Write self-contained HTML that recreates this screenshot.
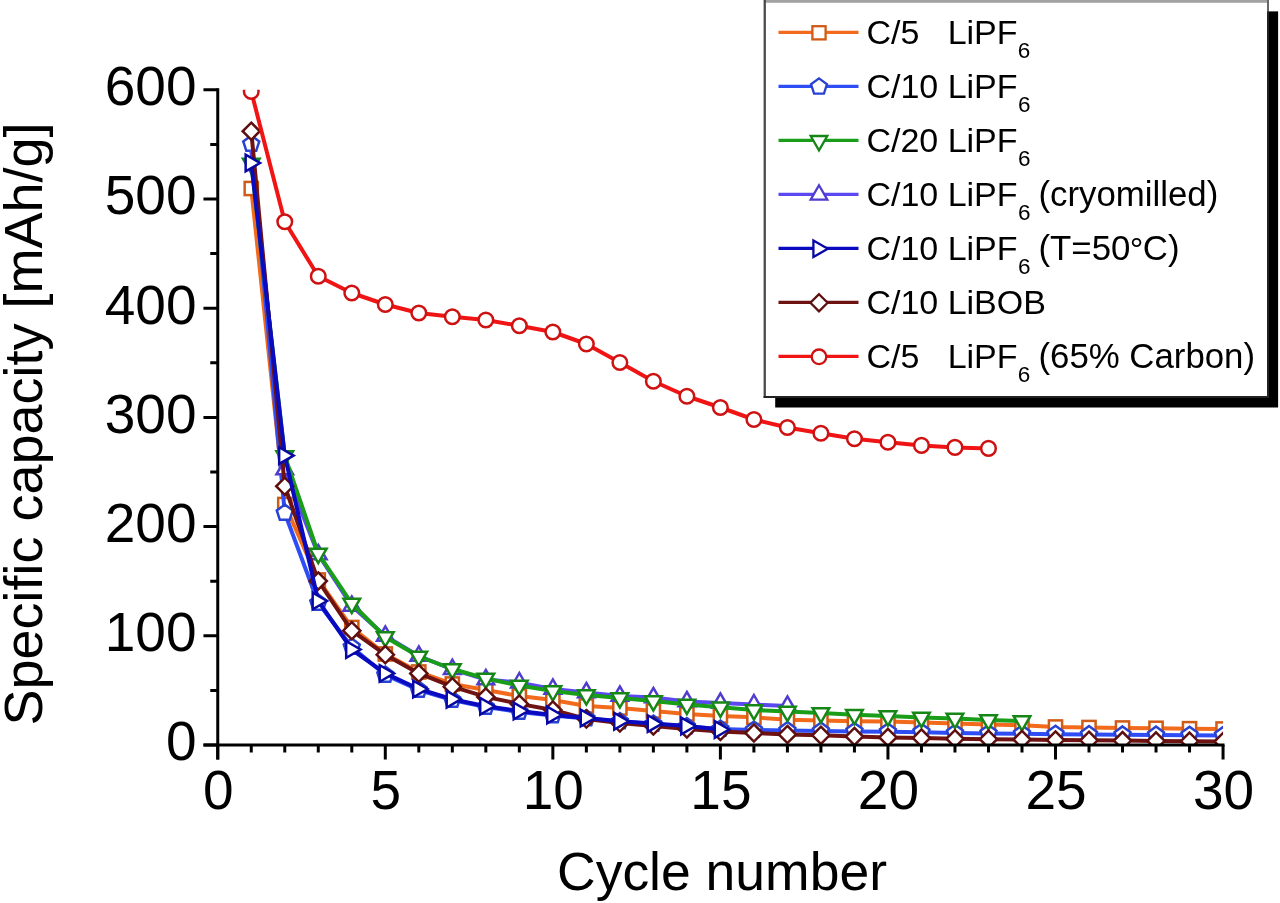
<!DOCTYPE html><html><head><meta charset="utf-8"><title>chart</title><style>
html,body{margin:0;padding:0;background:#fff}
body{width:1280px;height:903px;position:relative;overflow:hidden;font-family:"Liberation Sans",sans-serif;color:#000}
</style></head><body>
<svg width="1280" height="903" viewBox="0 0 1280 903" style="position:absolute;left:0;top:0;filter:blur(0.75px)">
<defs><clipPath id="pc"><rect x="217.75" y="89.8" width="1005.3" height="656.2"/></clipPath></defs>
<rect width="1280" height="903" fill="#fff"/>
<g clip-path="url(#pc)">
<polyline points="251.26,188.5 284.77,504.5 318.28,580 351.79,627.5 385.3,654 418.81,672 452.32,684 485.83,690 519.34,696 552.85,700 586.36,706 619.87,708 653.38,711 686.89,714 720.4,716 753.91,717.3 787.42,719.7 820.93,720.5 854.44,721.25 887.95,721.5 921.46,722.5 954.97,723.6 988.48,724.4 1021.99,725.2 1055.5,727 1089.01,727.5 1122.52,728 1156.03,728.3 1189.54,728.7 1223.05,729" fill="none" stroke="#f26a1b" stroke-width="4" stroke-linejoin="round"/>
<rect x="244.66" y="181.9" width="13.2" height="13.2" fill="#fff" stroke="#d05b17" stroke-width="2.5" stroke-linejoin="miter"/>
<rect x="278.17" y="497.9" width="13.2" height="13.2" fill="#fff" stroke="#d05b17" stroke-width="2.5" stroke-linejoin="miter"/>
<rect x="311.68" y="573.4" width="13.2" height="13.2" fill="#fff" stroke="#d05b17" stroke-width="2.5" stroke-linejoin="miter"/>
<rect x="345.19" y="620.9" width="13.2" height="13.2" fill="#fff" stroke="#d05b17" stroke-width="2.5" stroke-linejoin="miter"/>
<rect x="378.7" y="647.4" width="13.2" height="13.2" fill="#fff" stroke="#d05b17" stroke-width="2.5" stroke-linejoin="miter"/>
<rect x="412.21" y="665.4" width="13.2" height="13.2" fill="#fff" stroke="#d05b17" stroke-width="2.5" stroke-linejoin="miter"/>
<rect x="445.72" y="677.4" width="13.2" height="13.2" fill="#fff" stroke="#d05b17" stroke-width="2.5" stroke-linejoin="miter"/>
<rect x="479.23" y="683.4" width="13.2" height="13.2" fill="#fff" stroke="#d05b17" stroke-width="2.5" stroke-linejoin="miter"/>
<rect x="512.74" y="689.4" width="13.2" height="13.2" fill="#fff" stroke="#d05b17" stroke-width="2.5" stroke-linejoin="miter"/>
<rect x="546.25" y="693.4" width="13.2" height="13.2" fill="#fff" stroke="#d05b17" stroke-width="2.5" stroke-linejoin="miter"/>
<rect x="579.76" y="699.4" width="13.2" height="13.2" fill="#fff" stroke="#d05b17" stroke-width="2.5" stroke-linejoin="miter"/>
<rect x="613.27" y="701.4" width="13.2" height="13.2" fill="#fff" stroke="#d05b17" stroke-width="2.5" stroke-linejoin="miter"/>
<rect x="646.78" y="704.4" width="13.2" height="13.2" fill="#fff" stroke="#d05b17" stroke-width="2.5" stroke-linejoin="miter"/>
<rect x="680.29" y="707.4" width="13.2" height="13.2" fill="#fff" stroke="#d05b17" stroke-width="2.5" stroke-linejoin="miter"/>
<rect x="713.8" y="709.4" width="13.2" height="13.2" fill="#fff" stroke="#d05b17" stroke-width="2.5" stroke-linejoin="miter"/>
<rect x="747.31" y="710.7" width="13.2" height="13.2" fill="#fff" stroke="#d05b17" stroke-width="2.5" stroke-linejoin="miter"/>
<rect x="780.82" y="713.1" width="13.2" height="13.2" fill="#fff" stroke="#d05b17" stroke-width="2.5" stroke-linejoin="miter"/>
<rect x="814.33" y="713.9" width="13.2" height="13.2" fill="#fff" stroke="#d05b17" stroke-width="2.5" stroke-linejoin="miter"/>
<rect x="847.84" y="714.65" width="13.2" height="13.2" fill="#fff" stroke="#d05b17" stroke-width="2.5" stroke-linejoin="miter"/>
<rect x="881.35" y="714.9" width="13.2" height="13.2" fill="#fff" stroke="#d05b17" stroke-width="2.5" stroke-linejoin="miter"/>
<rect x="914.86" y="715.9" width="13.2" height="13.2" fill="#fff" stroke="#d05b17" stroke-width="2.5" stroke-linejoin="miter"/>
<rect x="948.37" y="717" width="13.2" height="13.2" fill="#fff" stroke="#d05b17" stroke-width="2.5" stroke-linejoin="miter"/>
<rect x="981.88" y="717.8" width="13.2" height="13.2" fill="#fff" stroke="#d05b17" stroke-width="2.5" stroke-linejoin="miter"/>
<rect x="1015.39" y="718.6" width="13.2" height="13.2" fill="#fff" stroke="#d05b17" stroke-width="2.5" stroke-linejoin="miter"/>
<rect x="1048.9" y="720.4" width="13.2" height="13.2" fill="#fff" stroke="#d05b17" stroke-width="2.5" stroke-linejoin="miter"/>
<rect x="1082.41" y="720.9" width="13.2" height="13.2" fill="#fff" stroke="#d05b17" stroke-width="2.5" stroke-linejoin="miter"/>
<rect x="1115.92" y="721.4" width="13.2" height="13.2" fill="#fff" stroke="#d05b17" stroke-width="2.5" stroke-linejoin="miter"/>
<rect x="1149.43" y="721.7" width="13.2" height="13.2" fill="#fff" stroke="#d05b17" stroke-width="2.5" stroke-linejoin="miter"/>
<rect x="1182.94" y="722.1" width="13.2" height="13.2" fill="#fff" stroke="#d05b17" stroke-width="2.5" stroke-linejoin="miter"/>
<rect x="1216.45" y="722.4" width="13.2" height="13.2" fill="#fff" stroke="#d05b17" stroke-width="2.5" stroke-linejoin="miter"/>
<polyline points="251.26,144 284.77,513 318.28,603 351.79,647 385.3,675 418.81,690 452.32,700 485.83,707 519.34,712 552.85,715.5 586.36,718.5 619.87,721.5 653.38,724 686.89,726.5 720.4,729 753.91,730 787.42,730.5 820.93,731 854.44,731.4 887.95,731.8 921.46,732.2 954.97,733 988.48,733.4 1021.99,733.75 1055.5,734.2 1089.01,734.5 1122.52,734.8 1156.03,735 1189.54,735.2 1223.05,735.4" fill="none" stroke="#2f4df5" stroke-width="4" stroke-linejoin="round"/>
<polygon points="251.26,135.6 259.25,141.4 256.2,150.8 246.32,150.8 243.27,141.4" fill="#fff" stroke="#2842d2" stroke-width="2.5" stroke-linejoin="miter"/>
<polygon points="284.77,504.6 292.76,510.4 289.71,519.8 279.83,519.8 276.78,510.4" fill="#fff" stroke="#2842d2" stroke-width="2.5" stroke-linejoin="miter"/>
<polygon points="318.28,594.6 326.27,600.4 323.22,609.8 313.34,609.8 310.29,600.4" fill="#fff" stroke="#2842d2" stroke-width="2.5" stroke-linejoin="miter"/>
<polygon points="351.79,638.6 359.78,644.4 356.73,653.8 346.85,653.8 343.8,644.4" fill="#fff" stroke="#2842d2" stroke-width="2.5" stroke-linejoin="miter"/>
<polygon points="385.3,666.6 393.29,672.4 390.24,681.8 380.36,681.8 377.31,672.4" fill="#fff" stroke="#2842d2" stroke-width="2.5" stroke-linejoin="miter"/>
<polygon points="418.81,681.6 426.8,687.4 423.75,696.8 413.87,696.8 410.82,687.4" fill="#fff" stroke="#2842d2" stroke-width="2.5" stroke-linejoin="miter"/>
<polygon points="452.32,691.6 460.31,697.4 457.26,706.8 447.38,706.8 444.33,697.4" fill="#fff" stroke="#2842d2" stroke-width="2.5" stroke-linejoin="miter"/>
<polygon points="485.83,698.6 493.82,704.4 490.77,713.8 480.89,713.8 477.84,704.4" fill="#fff" stroke="#2842d2" stroke-width="2.5" stroke-linejoin="miter"/>
<polygon points="519.34,703.6 527.33,709.4 524.28,718.8 514.4,718.8 511.35,709.4" fill="#fff" stroke="#2842d2" stroke-width="2.5" stroke-linejoin="miter"/>
<polygon points="552.85,707.1 560.84,712.9 557.79,722.3 547.91,722.3 544.86,712.9" fill="#fff" stroke="#2842d2" stroke-width="2.5" stroke-linejoin="miter"/>
<polygon points="586.36,710.1 594.35,715.9 591.3,725.3 581.42,725.3 578.37,715.9" fill="#fff" stroke="#2842d2" stroke-width="2.5" stroke-linejoin="miter"/>
<polygon points="619.87,713.1 627.86,718.9 624.81,728.3 614.93,728.3 611.88,718.9" fill="#fff" stroke="#2842d2" stroke-width="2.5" stroke-linejoin="miter"/>
<polygon points="653.38,715.6 661.37,721.4 658.32,730.8 648.44,730.8 645.39,721.4" fill="#fff" stroke="#2842d2" stroke-width="2.5" stroke-linejoin="miter"/>
<polygon points="686.89,718.1 694.88,723.9 691.83,733.3 681.95,733.3 678.9,723.9" fill="#fff" stroke="#2842d2" stroke-width="2.5" stroke-linejoin="miter"/>
<polygon points="720.4,720.6 728.39,726.4 725.34,735.8 715.46,735.8 712.41,726.4" fill="#fff" stroke="#2842d2" stroke-width="2.5" stroke-linejoin="miter"/>
<polygon points="753.91,721.6 761.9,727.4 758.85,736.8 748.97,736.8 745.92,727.4" fill="#fff" stroke="#2842d2" stroke-width="2.5" stroke-linejoin="miter"/>
<polygon points="787.42,722.1 795.41,727.9 792.36,737.3 782.48,737.3 779.43,727.9" fill="#fff" stroke="#2842d2" stroke-width="2.5" stroke-linejoin="miter"/>
<polygon points="820.93,722.6 828.92,728.4 825.87,737.8 815.99,737.8 812.94,728.4" fill="#fff" stroke="#2842d2" stroke-width="2.5" stroke-linejoin="miter"/>
<polygon points="854.44,723 862.43,728.8 859.38,738.2 849.5,738.2 846.45,728.8" fill="#fff" stroke="#2842d2" stroke-width="2.5" stroke-linejoin="miter"/>
<polygon points="887.95,723.4 895.94,729.2 892.89,738.6 883.01,738.6 879.96,729.2" fill="#fff" stroke="#2842d2" stroke-width="2.5" stroke-linejoin="miter"/>
<polygon points="921.46,723.8 929.45,729.6 926.4,739 916.52,739 913.47,729.6" fill="#fff" stroke="#2842d2" stroke-width="2.5" stroke-linejoin="miter"/>
<polygon points="954.97,724.6 962.96,730.4 959.91,739.8 950.03,739.8 946.98,730.4" fill="#fff" stroke="#2842d2" stroke-width="2.5" stroke-linejoin="miter"/>
<polygon points="988.48,725 996.47,730.8 993.42,740.2 983.54,740.2 980.49,730.8" fill="#fff" stroke="#2842d2" stroke-width="2.5" stroke-linejoin="miter"/>
<polygon points="1021.99,725.35 1029.98,731.15 1026.93,740.55 1017.05,740.55 1014,731.15" fill="#fff" stroke="#2842d2" stroke-width="2.5" stroke-linejoin="miter"/>
<polygon points="1055.5,725.8 1063.49,731.6 1060.44,741 1050.56,741 1047.51,731.6" fill="#fff" stroke="#2842d2" stroke-width="2.5" stroke-linejoin="miter"/>
<polygon points="1089.01,726.1 1097,731.9 1093.95,741.3 1084.07,741.3 1081.02,731.9" fill="#fff" stroke="#2842d2" stroke-width="2.5" stroke-linejoin="miter"/>
<polygon points="1122.52,726.4 1130.51,732.2 1127.46,741.6 1117.58,741.6 1114.53,732.2" fill="#fff" stroke="#2842d2" stroke-width="2.5" stroke-linejoin="miter"/>
<polygon points="1156.03,726.6 1164.02,732.4 1160.97,741.8 1151.09,741.8 1148.04,732.4" fill="#fff" stroke="#2842d2" stroke-width="2.5" stroke-linejoin="miter"/>
<polygon points="1189.54,726.8 1197.53,732.6 1194.48,742 1184.6,742 1181.55,732.6" fill="#fff" stroke="#2842d2" stroke-width="2.5" stroke-linejoin="miter"/>
<polygon points="1223.05,727 1231.04,732.8 1227.99,742.2 1218.11,742.2 1215.06,732.8" fill="#fff" stroke="#2842d2" stroke-width="2.5" stroke-linejoin="miter"/>
<polyline points="251.26,150 284.77,469.5 318.28,554.5 351.79,606 385.3,636 418.81,656 452.32,669.3 485.83,679.5 519.34,682.6 552.85,689 586.36,692.5 619.87,696 653.38,697.5 686.89,701.5 720.4,703 753.91,704.6 787.42,706" fill="none" stroke="#5b48f0" stroke-width="4" stroke-linejoin="round"/>
<polygon points="284.77,459.9 293.08,474.3 276.46,474.3" fill="#fff" stroke="#4e3dce" stroke-width="2.5" stroke-linejoin="miter"/>
<polygon points="318.28,544.9 326.59,559.3 309.97,559.3" fill="#fff" stroke="#4e3dce" stroke-width="2.5" stroke-linejoin="miter"/>
<polygon points="351.79,596.4 360.1,610.8 343.48,610.8" fill="#fff" stroke="#4e3dce" stroke-width="2.5" stroke-linejoin="miter"/>
<polygon points="385.3,626.4 393.61,640.8 376.99,640.8" fill="#fff" stroke="#4e3dce" stroke-width="2.5" stroke-linejoin="miter"/>
<polygon points="418.81,646.4 427.12,660.8 410.5,660.8" fill="#fff" stroke="#4e3dce" stroke-width="2.5" stroke-linejoin="miter"/>
<polygon points="452.32,659.7 460.63,674.1 444.01,674.1" fill="#fff" stroke="#4e3dce" stroke-width="2.5" stroke-linejoin="miter"/>
<polygon points="485.83,669.9 494.14,684.3 477.52,684.3" fill="#fff" stroke="#4e3dce" stroke-width="2.5" stroke-linejoin="miter"/>
<polygon points="519.34,673 527.65,687.4 511.03,687.4" fill="#fff" stroke="#4e3dce" stroke-width="2.5" stroke-linejoin="miter"/>
<polygon points="552.85,679.4 561.16,693.8 544.54,693.8" fill="#fff" stroke="#4e3dce" stroke-width="2.5" stroke-linejoin="miter"/>
<polygon points="586.36,682.9 594.67,697.3 578.05,697.3" fill="#fff" stroke="#4e3dce" stroke-width="2.5" stroke-linejoin="miter"/>
<polygon points="619.87,686.4 628.18,700.8 611.56,700.8" fill="#fff" stroke="#4e3dce" stroke-width="2.5" stroke-linejoin="miter"/>
<polygon points="653.38,687.9 661.69,702.3 645.07,702.3" fill="#fff" stroke="#4e3dce" stroke-width="2.5" stroke-linejoin="miter"/>
<polygon points="686.89,691.9 695.2,706.3 678.58,706.3" fill="#fff" stroke="#4e3dce" stroke-width="2.5" stroke-linejoin="miter"/>
<polygon points="720.4,693.4 728.71,707.8 712.09,707.8" fill="#fff" stroke="#4e3dce" stroke-width="2.5" stroke-linejoin="miter"/>
<polygon points="753.91,695 762.22,709.4 745.6,709.4" fill="#fff" stroke="#4e3dce" stroke-width="2.5" stroke-linejoin="miter"/>
<polygon points="787.42,696.4 795.73,710.8 779.11,710.8" fill="#fff" stroke="#4e3dce" stroke-width="2.5" stroke-linejoin="miter"/>
<polyline points="251.26,163.5 284.77,456 318.28,553.5 351.79,603.5 385.3,637 418.81,656.5 452.32,669 485.83,678.5 519.34,685.5 552.85,691 586.36,695 619.87,698 653.38,701 686.89,704.5 720.4,707.3 753.91,710 787.42,711.6 820.93,713 854.44,714.7 887.95,716 921.46,717.5 954.97,718.5 988.48,720 1021.99,721" fill="none" stroke="#1a9e1a" stroke-width="4" stroke-linejoin="round"/>
<polygon points="251.26,173.1 242.95,158.7 259.57,158.7" fill="#fff" stroke="#168716" stroke-width="2.5" stroke-linejoin="miter"/>
<polygon points="284.77,465.6 276.46,451.2 293.08,451.2" fill="#fff" stroke="#168716" stroke-width="2.5" stroke-linejoin="miter"/>
<polygon points="318.28,563.1 309.97,548.7 326.59,548.7" fill="#fff" stroke="#168716" stroke-width="2.5" stroke-linejoin="miter"/>
<polygon points="351.79,613.1 343.48,598.7 360.1,598.7" fill="#fff" stroke="#168716" stroke-width="2.5" stroke-linejoin="miter"/>
<polygon points="385.3,646.6 376.99,632.2 393.61,632.2" fill="#fff" stroke="#168716" stroke-width="2.5" stroke-linejoin="miter"/>
<polygon points="418.81,666.1 410.5,651.7 427.12,651.7" fill="#fff" stroke="#168716" stroke-width="2.5" stroke-linejoin="miter"/>
<polygon points="452.32,678.6 444.01,664.2 460.63,664.2" fill="#fff" stroke="#168716" stroke-width="2.5" stroke-linejoin="miter"/>
<polygon points="485.83,688.1 477.52,673.7 494.14,673.7" fill="#fff" stroke="#168716" stroke-width="2.5" stroke-linejoin="miter"/>
<polygon points="519.34,695.1 511.03,680.7 527.65,680.7" fill="#fff" stroke="#168716" stroke-width="2.5" stroke-linejoin="miter"/>
<polygon points="552.85,700.6 544.54,686.2 561.16,686.2" fill="#fff" stroke="#168716" stroke-width="2.5" stroke-linejoin="miter"/>
<polygon points="586.36,704.6 578.05,690.2 594.67,690.2" fill="#fff" stroke="#168716" stroke-width="2.5" stroke-linejoin="miter"/>
<polygon points="619.87,707.6 611.56,693.2 628.18,693.2" fill="#fff" stroke="#168716" stroke-width="2.5" stroke-linejoin="miter"/>
<polygon points="653.38,710.6 645.07,696.2 661.69,696.2" fill="#fff" stroke="#168716" stroke-width="2.5" stroke-linejoin="miter"/>
<polygon points="686.89,714.1 678.58,699.7 695.2,699.7" fill="#fff" stroke="#168716" stroke-width="2.5" stroke-linejoin="miter"/>
<polygon points="720.4,716.9 712.09,702.5 728.71,702.5" fill="#fff" stroke="#168716" stroke-width="2.5" stroke-linejoin="miter"/>
<polygon points="753.91,719.6 745.6,705.2 762.22,705.2" fill="#fff" stroke="#168716" stroke-width="2.5" stroke-linejoin="miter"/>
<polygon points="787.42,721.2 779.11,706.8 795.73,706.8" fill="#fff" stroke="#168716" stroke-width="2.5" stroke-linejoin="miter"/>
<polygon points="820.93,722.6 812.62,708.2 829.24,708.2" fill="#fff" stroke="#168716" stroke-width="2.5" stroke-linejoin="miter"/>
<polygon points="854.44,724.3 846.13,709.9 862.75,709.9" fill="#fff" stroke="#168716" stroke-width="2.5" stroke-linejoin="miter"/>
<polygon points="887.95,725.6 879.64,711.2 896.26,711.2" fill="#fff" stroke="#168716" stroke-width="2.5" stroke-linejoin="miter"/>
<polygon points="921.46,727.1 913.15,712.7 929.77,712.7" fill="#fff" stroke="#168716" stroke-width="2.5" stroke-linejoin="miter"/>
<polygon points="954.97,728.1 946.66,713.7 963.28,713.7" fill="#fff" stroke="#168716" stroke-width="2.5" stroke-linejoin="miter"/>
<polygon points="988.48,729.6 980.17,715.2 996.79,715.2" fill="#fff" stroke="#168716" stroke-width="2.5" stroke-linejoin="miter"/>
<polygon points="1021.99,730.6 1013.68,716.2 1030.3,716.2" fill="#fff" stroke="#168716" stroke-width="2.5" stroke-linejoin="miter"/>
<polyline points="251.26,131.25 284.77,486.25 318.28,581 351.79,630.7 385.3,654.7 418.81,673.4 452.32,686.7 485.83,696.9 519.34,703.9 552.85,710 586.36,719 619.87,723 653.38,726 686.89,729 720.4,731.5 753.91,733 787.42,734.5 820.93,735.3 854.44,736.5 887.95,737.4 921.46,738 954.97,738.75 988.48,739.2 1021.99,739.5 1055.5,740 1089.01,740.3 1122.52,740.6 1156.03,740.9 1189.54,741.2 1223.05,741.5" fill="none" stroke="#6e1212" stroke-width="4" stroke-linejoin="round"/>
<polygon points="251.26,122.65 259.86,131.25 251.26,139.85 242.66,131.25" fill="#fff" stroke="#5e0f0f" stroke-width="2.5" stroke-linejoin="miter"/>
<polygon points="284.77,477.65 293.37,486.25 284.77,494.85 276.17,486.25" fill="#fff" stroke="#5e0f0f" stroke-width="2.5" stroke-linejoin="miter"/>
<polygon points="318.28,572.4 326.88,581 318.28,589.6 309.68,581" fill="#fff" stroke="#5e0f0f" stroke-width="2.5" stroke-linejoin="miter"/>
<polygon points="351.79,622.1 360.39,630.7 351.79,639.3 343.19,630.7" fill="#fff" stroke="#5e0f0f" stroke-width="2.5" stroke-linejoin="miter"/>
<polygon points="385.3,646.1 393.9,654.7 385.3,663.3 376.7,654.7" fill="#fff" stroke="#5e0f0f" stroke-width="2.5" stroke-linejoin="miter"/>
<polygon points="418.81,664.8 427.41,673.4 418.81,682 410.21,673.4" fill="#fff" stroke="#5e0f0f" stroke-width="2.5" stroke-linejoin="miter"/>
<polygon points="452.32,678.1 460.92,686.7 452.32,695.3 443.72,686.7" fill="#fff" stroke="#5e0f0f" stroke-width="2.5" stroke-linejoin="miter"/>
<polygon points="485.83,688.3 494.43,696.9 485.83,705.5 477.23,696.9" fill="#fff" stroke="#5e0f0f" stroke-width="2.5" stroke-linejoin="miter"/>
<polygon points="519.34,695.3 527.94,703.9 519.34,712.5 510.74,703.9" fill="#fff" stroke="#5e0f0f" stroke-width="2.5" stroke-linejoin="miter"/>
<polygon points="552.85,701.4 561.45,710 552.85,718.6 544.25,710" fill="#fff" stroke="#5e0f0f" stroke-width="2.5" stroke-linejoin="miter"/>
<polygon points="586.36,710.4 594.96,719 586.36,727.6 577.76,719" fill="#fff" stroke="#5e0f0f" stroke-width="2.5" stroke-linejoin="miter"/>
<polygon points="619.87,714.4 628.47,723 619.87,731.6 611.27,723" fill="#fff" stroke="#5e0f0f" stroke-width="2.5" stroke-linejoin="miter"/>
<polygon points="653.38,717.4 661.98,726 653.38,734.6 644.78,726" fill="#fff" stroke="#5e0f0f" stroke-width="2.5" stroke-linejoin="miter"/>
<polygon points="686.89,720.4 695.49,729 686.89,737.6 678.29,729" fill="#fff" stroke="#5e0f0f" stroke-width="2.5" stroke-linejoin="miter"/>
<polygon points="720.4,722.9 729,731.5 720.4,740.1 711.8,731.5" fill="#fff" stroke="#5e0f0f" stroke-width="2.5" stroke-linejoin="miter"/>
<polygon points="753.91,724.4 762.51,733 753.91,741.6 745.31,733" fill="#fff" stroke="#5e0f0f" stroke-width="2.5" stroke-linejoin="miter"/>
<polygon points="787.42,725.9 796.02,734.5 787.42,743.1 778.82,734.5" fill="#fff" stroke="#5e0f0f" stroke-width="2.5" stroke-linejoin="miter"/>
<polygon points="820.93,726.7 829.53,735.3 820.93,743.9 812.33,735.3" fill="#fff" stroke="#5e0f0f" stroke-width="2.5" stroke-linejoin="miter"/>
<polygon points="854.44,727.9 863.04,736.5 854.44,745.1 845.84,736.5" fill="#fff" stroke="#5e0f0f" stroke-width="2.5" stroke-linejoin="miter"/>
<polygon points="887.95,728.8 896.55,737.4 887.95,746 879.35,737.4" fill="#fff" stroke="#5e0f0f" stroke-width="2.5" stroke-linejoin="miter"/>
<polygon points="921.46,729.4 930.06,738 921.46,746.6 912.86,738" fill="#fff" stroke="#5e0f0f" stroke-width="2.5" stroke-linejoin="miter"/>
<polygon points="954.97,730.15 963.57,738.75 954.97,747.35 946.37,738.75" fill="#fff" stroke="#5e0f0f" stroke-width="2.5" stroke-linejoin="miter"/>
<polygon points="988.48,730.6 997.08,739.2 988.48,747.8 979.88,739.2" fill="#fff" stroke="#5e0f0f" stroke-width="2.5" stroke-linejoin="miter"/>
<polygon points="1021.99,730.9 1030.59,739.5 1021.99,748.1 1013.39,739.5" fill="#fff" stroke="#5e0f0f" stroke-width="2.5" stroke-linejoin="miter"/>
<polygon points="1055.5,731.4 1064.1,740 1055.5,748.6 1046.9,740" fill="#fff" stroke="#5e0f0f" stroke-width="2.5" stroke-linejoin="miter"/>
<polygon points="1089.01,731.7 1097.61,740.3 1089.01,748.9 1080.41,740.3" fill="#fff" stroke="#5e0f0f" stroke-width="2.5" stroke-linejoin="miter"/>
<polygon points="1122.52,732 1131.12,740.6 1122.52,749.2 1113.92,740.6" fill="#fff" stroke="#5e0f0f" stroke-width="2.5" stroke-linejoin="miter"/>
<polygon points="1156.03,732.3 1164.63,740.9 1156.03,749.5 1147.43,740.9" fill="#fff" stroke="#5e0f0f" stroke-width="2.5" stroke-linejoin="miter"/>
<polygon points="1189.54,732.6 1198.14,741.2 1189.54,749.8 1180.94,741.2" fill="#fff" stroke="#5e0f0f" stroke-width="2.5" stroke-linejoin="miter"/>
<polygon points="1223.05,732.9 1231.65,741.5 1223.05,750.1 1214.45,741.5" fill="#fff" stroke="#5e0f0f" stroke-width="2.5" stroke-linejoin="miter"/>
<polyline points="251.26,163 284.77,455.6 318.28,601 351.79,649.5 385.3,673.4 418.81,689 452.32,699.2 485.83,706.25 519.34,711 552.85,715 586.36,718 619.87,721.25 653.38,723.6 686.89,726 720.4,729.5" fill="none" stroke="#0a0ac0" stroke-width="4" stroke-linejoin="round"/>
<polygon points="260.06,163 245.66,171.31 245.66,154.69" fill="#fff" stroke="#0808a5" stroke-width="2.5" stroke-linejoin="miter"/>
<polygon points="293.57,455.6 279.17,463.91 279.17,447.29" fill="#fff" stroke="#0808a5" stroke-width="2.5" stroke-linejoin="miter"/>
<polygon points="327.08,601 312.68,609.31 312.68,592.69" fill="#fff" stroke="#0808a5" stroke-width="2.5" stroke-linejoin="miter"/>
<polygon points="360.59,649.5 346.19,657.81 346.19,641.19" fill="#fff" stroke="#0808a5" stroke-width="2.5" stroke-linejoin="miter"/>
<polygon points="394.1,673.4 379.7,681.71 379.7,665.09" fill="#fff" stroke="#0808a5" stroke-width="2.5" stroke-linejoin="miter"/>
<polygon points="427.61,689 413.21,697.31 413.21,680.69" fill="#fff" stroke="#0808a5" stroke-width="2.5" stroke-linejoin="miter"/>
<polygon points="461.12,699.2 446.72,707.51 446.72,690.89" fill="#fff" stroke="#0808a5" stroke-width="2.5" stroke-linejoin="miter"/>
<polygon points="494.63,706.25 480.23,714.56 480.23,697.94" fill="#fff" stroke="#0808a5" stroke-width="2.5" stroke-linejoin="miter"/>
<polygon points="528.14,711 513.74,719.31 513.74,702.69" fill="#fff" stroke="#0808a5" stroke-width="2.5" stroke-linejoin="miter"/>
<polygon points="561.65,715 547.25,723.31 547.25,706.69" fill="#fff" stroke="#0808a5" stroke-width="2.5" stroke-linejoin="miter"/>
<polygon points="595.16,718 580.76,726.31 580.76,709.69" fill="#fff" stroke="#0808a5" stroke-width="2.5" stroke-linejoin="miter"/>
<polygon points="628.67,721.25 614.27,729.56 614.27,712.94" fill="#fff" stroke="#0808a5" stroke-width="2.5" stroke-linejoin="miter"/>
<polygon points="662.18,723.6 647.78,731.91 647.78,715.29" fill="#fff" stroke="#0808a5" stroke-width="2.5" stroke-linejoin="miter"/>
<polygon points="695.69,726 681.29,734.31 681.29,717.69" fill="#fff" stroke="#0808a5" stroke-width="2.5" stroke-linejoin="miter"/>
<polygon points="729.2,729.5 714.8,737.81 714.8,721.19" fill="#fff" stroke="#0808a5" stroke-width="2.5" stroke-linejoin="miter"/>
<polyline points="251.26,91.5 284.77,221.75 318.28,276.25 351.79,293 385.3,304.5 418.81,313 452.32,316.75 485.83,320 519.34,325.75 552.85,332 586.36,344 619.87,362.5 653.38,381.25 686.89,396.25 720.4,407.5 753.91,419.5 787.42,427.5 820.93,433.25 854.44,438.75 887.95,442.3 921.46,445.4 954.97,447.4 988.48,448.4" fill="none" stroke="#f01414" stroke-width="4" stroke-linejoin="round"/>
<circle cx="251.26" cy="91.5" r="7.3" fill="#fff" stroke="#ce1111" stroke-width="2.5" stroke-linejoin="miter"/>
<circle cx="284.77" cy="221.75" r="7.3" fill="#fff" stroke="#ce1111" stroke-width="2.5" stroke-linejoin="miter"/>
<circle cx="318.28" cy="276.25" r="7.3" fill="#fff" stroke="#ce1111" stroke-width="2.5" stroke-linejoin="miter"/>
<circle cx="351.79" cy="293" r="7.3" fill="#fff" stroke="#ce1111" stroke-width="2.5" stroke-linejoin="miter"/>
<circle cx="385.3" cy="304.5" r="7.3" fill="#fff" stroke="#ce1111" stroke-width="2.5" stroke-linejoin="miter"/>
<circle cx="418.81" cy="313" r="7.3" fill="#fff" stroke="#ce1111" stroke-width="2.5" stroke-linejoin="miter"/>
<circle cx="452.32" cy="316.75" r="7.3" fill="#fff" stroke="#ce1111" stroke-width="2.5" stroke-linejoin="miter"/>
<circle cx="485.83" cy="320" r="7.3" fill="#fff" stroke="#ce1111" stroke-width="2.5" stroke-linejoin="miter"/>
<circle cx="519.34" cy="325.75" r="7.3" fill="#fff" stroke="#ce1111" stroke-width="2.5" stroke-linejoin="miter"/>
<circle cx="552.85" cy="332" r="7.3" fill="#fff" stroke="#ce1111" stroke-width="2.5" stroke-linejoin="miter"/>
<circle cx="586.36" cy="344" r="7.3" fill="#fff" stroke="#ce1111" stroke-width="2.5" stroke-linejoin="miter"/>
<circle cx="619.87" cy="362.5" r="7.3" fill="#fff" stroke="#ce1111" stroke-width="2.5" stroke-linejoin="miter"/>
<circle cx="653.38" cy="381.25" r="7.3" fill="#fff" stroke="#ce1111" stroke-width="2.5" stroke-linejoin="miter"/>
<circle cx="686.89" cy="396.25" r="7.3" fill="#fff" stroke="#ce1111" stroke-width="2.5" stroke-linejoin="miter"/>
<circle cx="720.4" cy="407.5" r="7.3" fill="#fff" stroke="#ce1111" stroke-width="2.5" stroke-linejoin="miter"/>
<circle cx="753.91" cy="419.5" r="7.3" fill="#fff" stroke="#ce1111" stroke-width="2.5" stroke-linejoin="miter"/>
<circle cx="787.42" cy="427.5" r="7.3" fill="#fff" stroke="#ce1111" stroke-width="2.5" stroke-linejoin="miter"/>
<circle cx="820.93" cy="433.25" r="7.3" fill="#fff" stroke="#ce1111" stroke-width="2.5" stroke-linejoin="miter"/>
<circle cx="854.44" cy="438.75" r="7.3" fill="#fff" stroke="#ce1111" stroke-width="2.5" stroke-linejoin="miter"/>
<circle cx="887.95" cy="442.3" r="7.3" fill="#fff" stroke="#ce1111" stroke-width="2.5" stroke-linejoin="miter"/>
<circle cx="921.46" cy="445.4" r="7.3" fill="#fff" stroke="#ce1111" stroke-width="2.5" stroke-linejoin="miter"/>
<circle cx="954.97" cy="447.4" r="7.3" fill="#fff" stroke="#ce1111" stroke-width="2.5" stroke-linejoin="miter"/>
<circle cx="988.48" cy="448.4" r="7.3" fill="#fff" stroke="#ce1111" stroke-width="2.5" stroke-linejoin="miter"/>
</g>
<g stroke="#000" stroke-width="3" fill="none"><path d="M217.75 88.3V759.5" /><path d="M203.5 745H1224.55" /><path d="M217.75 745v14.5M251.26 745v7.5M284.77 745v7.5M318.28 745v7.5M351.79 745v7.5M385.3 745v14.5M418.81 745v7.5M452.32 745v7.5M485.83 745v7.5M519.34 745v7.5M552.85 745v14.5M586.36 745v7.5M619.87 745v7.5M653.38 745v7.5M686.89 745v7.5M720.4 745v14.5M753.91 745v7.5M787.42 745v7.5M820.93 745v7.5M854.44 745v7.5M887.95 745v14.5M921.46 745v7.5M954.97 745v7.5M988.48 745v7.5M1021.99 745v7.5M1055.5 745v14.5M1089.01 745v7.5M1122.52 745v7.5M1156.03 745v7.5M1189.54 745v7.5M1223.05 745v14.5M217.75 745h-14.3M217.75 690.4h-7.5M217.75 635.8h-14.3M217.75 581.2h-7.5M217.75 526.6h-14.3M217.75 472h-7.5M217.75 417.4h-14.3M217.75 362.8h-7.5M217.75 308.2h-14.3M217.75 253.6h-7.5M217.75 199h-14.3M217.75 144.4h-7.5M217.75 89.8h-14.3"/></g>
<g font-family="&quot;Liberation Sans&quot;, sans-serif" font-size="55" fill="#000">
<text x="196.5" y="760.3" text-anchor="end">0</text>
<text x="196.5" y="651.1" text-anchor="end">100</text>
<text x="196.5" y="541.9" text-anchor="end">200</text>
<text x="196.5" y="432.7" text-anchor="end">300</text>
<text x="196.5" y="323.5" text-anchor="end">400</text>
<text x="196.5" y="214.3" text-anchor="end">500</text>
<text x="196.5" y="105.1" text-anchor="end">600</text>
<text x="218.25" y="808.7" text-anchor="middle">0</text>
<text x="385.8" y="808.7" text-anchor="middle">5</text>
<text x="553.35" y="808.7" text-anchor="middle">10</text>
<text x="720.9" y="808.7" text-anchor="middle">15</text>
<text x="888.45" y="808.7" text-anchor="middle">20</text>
<text x="1056" y="808.7" text-anchor="middle">25</text>
<text x="1223.55" y="808.7" text-anchor="middle">30</text>
<text x="557" y="889.7" font-size="54.5" textLength="330" lengthAdjust="spacingAndGlyphs">Cycle number</text>
<text transform="translate(41.8 725.5) rotate(-90)" font-size="54.5" textLength="603" lengthAdjust="spacingAndGlyphs">Specific capacity [mAh/g]</text>
</g>
<rect x="775.2" y="11.4" width="502.9" height="396.1" fill="#000"/>
<rect x="764.4" y="-3" width="504.6" height="400" fill="#fff"/>
<rect x="764.4" y="0" width="504.6" height="2.8" fill="#a3a3a3"/>
<rect x="763.6" y="0" width="2.3" height="398" fill="#4a4a4a"/>
<rect x="1267" y="0" width="2" height="397.9" fill="#222"/><rect x="1267" y="0" width="2" height="11.4" fill="#666"/>
<rect x="763.6" y="396" width="505.4" height="2" fill="#222"/>
<g font-family="&quot;Liberation Sans&quot;, sans-serif" font-size="34" fill="#000" style="white-space:pre">
<path d="M778.5 32.4H858.5" stroke="#f26a1b" stroke-width="3.4" fill="none"/>
<rect x="812.4" y="26.2" width="13.2" height="13.2" fill="#fff" stroke="#d05b17" stroke-width="2.3" stroke-linejoin="miter"/>
<text x="866.4" y="44.1" xml:space="preserve" style="white-space:pre">C/5   LiPF<tspan font-size="22.5" dy="14.3" dx="0.3">6</tspan></text>
<path d="M778.5 86.4H858.5" stroke="#2f4df5" stroke-width="3.4" fill="none"/>
<polygon points="819,78.4 826.99,84.2 823.94,93.6 814.06,93.6 811.01,84.2" fill="#fff" stroke="#2842d2" stroke-width="2.3" stroke-linejoin="miter"/>
<text x="866.4" y="98.1" xml:space="preserve" style="white-space:pre">C/10 LiPF<tspan font-size="22.5" dy="14.3" dx="0.3">6</tspan></text>
<path d="M778.5 140.4H858.5" stroke="#1a9e1a" stroke-width="3.4" fill="none"/>
<polygon points="819,150.4 810.69,136 827.31,136" fill="#fff" stroke="#168716" stroke-width="2.3" stroke-linejoin="miter"/>
<text x="866.4" y="152.1" xml:space="preserve" style="white-space:pre">C/20 LiPF<tspan font-size="22.5" dy="14.3" dx="0.3">6</tspan></text>
<path d="M778.5 194.4H858.5" stroke="#5b48f0" stroke-width="3.4" fill="none"/>
<polygon points="819,185.2 827.31,199.6 810.69,199.6" fill="#fff" stroke="#4e3dce" stroke-width="2.3" stroke-linejoin="miter"/>
<text x="866.4" y="206.1" xml:space="preserve" style="white-space:pre">C/10 LiPF<tspan font-size="22.5" dy="14.3" dx="0.3">6</tspan><tspan dy="-14.3" dx="-1.6" font-size="34.8"> (cryomilled)</tspan></text>
<path d="M778.5 248.4H858.5" stroke="#0a0ac0" stroke-width="3.4" fill="none"/>
<polygon points="827.8,248.8 813.4,257.11 813.4,240.49" fill="#fff" stroke="#0808a5" stroke-width="2.3" stroke-linejoin="miter"/>
<text x="866.4" y="260.1" xml:space="preserve" style="white-space:pre">C/10 LiPF<tspan font-size="22.5" dy="14.3" dx="0.3">6</tspan><tspan dy="-14.3" dx="-1.6" font-size="34.8"> (T=50</tspan><tspan font-size="34" dy="0.9" dx="-0.7">°</tspan><tspan dy="-0.9" dx="-0.5" font-size="34.8">C)</tspan></text>
<path d="M778.5 302.4H858.5" stroke="#6e1212" stroke-width="3.4" fill="none"/>
<polygon points="819,294.2 827.6,302.8 819,311.4 810.4,302.8" fill="#fff" stroke="#5e0f0f" stroke-width="2.3" stroke-linejoin="miter"/>
<text x="866.4" y="314.1" xml:space="preserve" style="white-space:pre">C/10 LiBOB</text>
<path d="M778.5 356.4H858.5" stroke="#f01414" stroke-width="3.4" fill="none"/>
<circle cx="819" cy="356.8" r="7.3" fill="#fff" stroke="#ce1111" stroke-width="2.3" stroke-linejoin="miter"/>
<text x="866.4" y="368.1" xml:space="preserve" style="white-space:pre">C/5   LiPF<tspan font-size="22.5" dy="14.3" dx="0.3">6</tspan><tspan dy="-14.3" dx="-1.6" font-size="34.8"> (65% Carbon)</tspan></text>
</g>
</svg>
</body></html>
